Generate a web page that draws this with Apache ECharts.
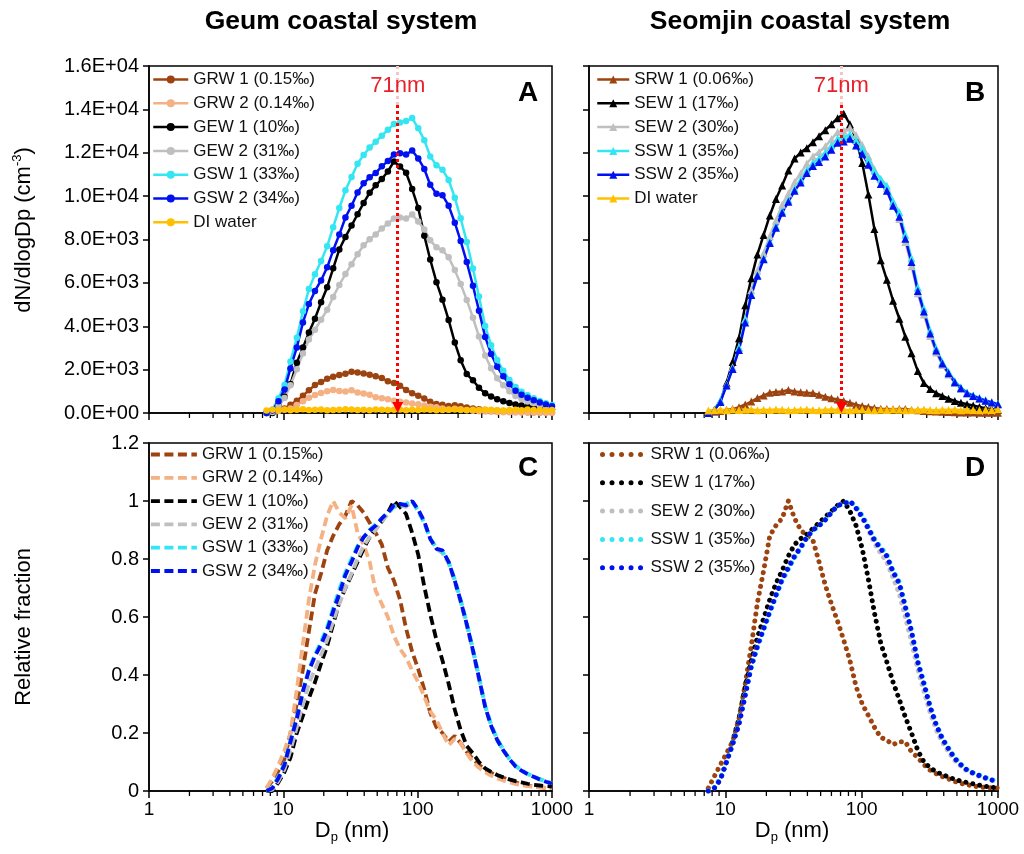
<!DOCTYPE html>
<html>
<head>
<meta charset="utf-8">
<title>Geum / Seomjin coastal system size distributions</title>
<script src="https://cdn.jsdelivr.net/npm/echarts@6/dist/echarts.min.js"></script>
<style>
  html, body { margin: 0; padding: 0; background: #fff; }
  #chart { width: 1024px; height: 854px; }
</style>
</head>
<body>
<div id="chart"></div>
<script>
// mobility diameter bins (nm)
const diameters = [7.5, 8.3, 9.2, 10.2, 11.3, 12.6, 14.0, 15.5, 17.2, 19.1,
  21.2, 23.5, 26.1, 29.0, 32.2, 35.7, 39.6, 43.9, 48.7, 54.1,
  60.0, 66.6, 73.9, 82.0, 91.0, 101, 112, 124, 138, 153,
  170, 189, 209, 232, 258, 286, 318, 352, 391, 434,
  482, 535, 593, 658, 731, 811, 900, 999]

// relative fraction (panel C)
const fracGRW1 = [0.01, 0.035, 0.07, 0.11, 0.2, 0.3, 0.42, 0.55, 0.68, 0.75,
  0.83, 0.88, 0.92, 0.95, 1.0, 0.985, 0.96, 0.925, 0.89, 0.85,
  0.77, 0.725, 0.66, 0.56, 0.48, 0.42, 0.35, 0.27, 0.22, 0.2,
  0.17, 0.19, 0.165, 0.135, 0.11, 0.09, 0.075, 0.063, 0.053, 0.046,
  0.038, 0.03, 0.024, 0.019, 0.015, 0.013, 0.011, 0.01]
const fracGRW2 = [0.01, 0.045, 0.09, 0.14, 0.2, 0.35, 0.51, 0.66, 0.78, 0.87,
  0.95, 1.0, 0.96, 0.94, 0.985, 0.89, 0.85, 0.79, 0.69, 0.645,
  0.6, 0.535, 0.49, 0.46, 0.415, 0.375, 0.325, 0.275, 0.245, 0.2,
  0.158, 0.18, 0.165, 0.13, 0.1, 0.08, 0.065, 0.053, 0.043, 0.036,
  0.03, 0.024, 0.02, 0.017, 0.015, 0.012, 0.011, 0.01]
const fracGEW1 = [0, 0, 0.03, 0.065, 0.115, 0.2, 0.26, 0.32, 0.375, 0.44,
  0.5, 0.575, 0.65, 0.7, 0.745, 0.79, 0.835, 0.875, 0.905, 0.93,
  0.96, 1.0, 0.98, 0.955, 0.89, 0.815, 0.705, 0.61, 0.52, 0.45,
  0.37, 0.28, 0.21, 0.155, 0.13, 0.1, 0.078, 0.066, 0.055, 0.047,
  0.04, 0.034, 0.03, 0.025, 0.021, 0.019, 0.017, 0.015]
const fracGEW2 = [0, 0.005, 0.035, 0.075, 0.14, 0.22, 0.3, 0.37, 0.42, 0.47,
  0.52, 0.585, 0.645, 0.7, 0.75, 0.8, 0.845, 0.875, 0.9, 0.93,
  0.955, 0.98, 0.985, 0.98, 1.0, 0.965, 0.925, 0.87, 0.835, 0.82,
  0.785, 0.72, 0.65, 0.57, 0.48, 0.385, 0.29, 0.225, 0.175, 0.14,
  0.11, 0.086, 0.07, 0.058, 0.049, 0.04, 0.033, 0.027]
const fracGSW1 = [0, 0.012, 0.05, 0.095, 0.175, 0.255, 0.345, 0.42, 0.47, 0.515,
  0.565, 0.63, 0.695, 0.755, 0.8, 0.845, 0.875, 0.9, 0.92, 0.94,
  0.96, 0.98, 0.985, 0.99, 1.0, 0.965, 0.925, 0.87, 0.84, 0.825,
  0.79, 0.73, 0.66, 0.58, 0.49, 0.395, 0.295, 0.23, 0.18, 0.143,
  0.112, 0.088, 0.072, 0.06, 0.05, 0.041, 0.033, 0.027]
const fracGSW2 = [0, 0.01, 0.045, 0.09, 0.17, 0.25, 0.345, 0.415, 0.465, 0.505,
  0.555, 0.62, 0.68, 0.745, 0.79, 0.84, 0.875, 0.898, 0.915, 0.94,
  0.96, 0.985, 0.99, 0.985, 1.0, 0.97, 0.93, 0.87, 0.835, 0.83,
  0.79, 0.725, 0.655, 0.575, 0.485, 0.39, 0.29, 0.225, 0.176, 0.14,
  0.11, 0.085, 0.07, 0.058, 0.049, 0.04, 0.032, 0.026]

// relative fraction (panel D)
const fracSRW1 = [0.01, 0.05, 0.09, 0.13, 0.17, 0.25, 0.37, 0.5, 0.65, 0.76,
  0.88, 0.915, 0.94, 1.0, 0.94, 0.9, 0.88, 0.865, 0.79, 0.71,
  0.645, 0.585, 0.52, 0.45, 0.36, 0.3, 0.26, 0.22, 0.185, 0.175,
  0.16, 0.17, 0.17, 0.135, 0.115, 0.09, 0.072, 0.06, 0.05, 0.042,
  0.033, 0.026, 0.022, 0.017, 0.014, 0.012, 0.011, 0.01]
const fracSEW1 = [0, 0.01, 0.04, 0.1, 0.17, 0.25, 0.36, 0.45, 0.53, 0.595,
  0.66, 0.715, 0.76, 0.81, 0.85, 0.87, 0.885, 0.905, 0.925, 0.945,
  0.965, 0.985, 1.0, 0.965, 0.915, 0.835, 0.73, 0.615, 0.51, 0.445,
  0.375, 0.315, 0.255, 0.2, 0.14, 0.1, 0.08, 0.066, 0.057, 0.048,
  0.04, 0.034, 0.029, 0.025, 0.02, 0.016, 0.013, 0.01]
const fracSEW2 = [0, 0.01, 0.04, 0.1, 0.16, 0.23, 0.33, 0.43, 0.5, 0.56,
  0.62, 0.675, 0.73, 0.77, 0.81, 0.84, 0.875, 0.9, 0.915, 0.935,
  0.96, 0.985, 0.99, 1.0, 0.975, 0.94, 0.9, 0.855, 0.82, 0.79,
  0.735, 0.68, 0.6, 0.515, 0.42, 0.345, 0.27, 0.212, 0.168, 0.135,
  0.105, 0.085, 0.069, 0.059, 0.05, 0.043, 0.037, 0.031]
const fracSSW1 = [0, 0.012, 0.045, 0.1, 0.16, 0.235, 0.335, 0.425, 0.495, 0.555,
  0.615, 0.67, 0.725, 0.765, 0.805, 0.838, 0.872, 0.898, 0.915, 0.935,
  0.96, 0.985, 0.99, 1.0, 0.98, 0.95, 0.91, 0.87, 0.84, 0.815,
  0.76, 0.72, 0.64, 0.555, 0.45, 0.375, 0.295, 0.232, 0.183, 0.148,
  0.115, 0.092, 0.074, 0.063, 0.054, 0.046, 0.039, 0.033]
const fracSSW2 = [0, 0.01, 0.04, 0.1, 0.16, 0.23, 0.33, 0.43, 0.5, 0.56,
  0.62, 0.675, 0.73, 0.77, 0.81, 0.84, 0.875, 0.9, 0.915, 0.935,
  0.96, 0.985, 0.99, 1.0, 0.975, 0.945, 0.905, 0.865, 0.835, 0.81,
  0.755, 0.715, 0.635, 0.55, 0.445, 0.37, 0.29, 0.228, 0.18, 0.145,
  0.112, 0.09, 0.072, 0.062, 0.053, 0.045, 0.038, 0.032]

// peak number concentration dN/dlogDp (cm-3), panels A and B
const peakGeum = [1900, 1060, 11600, 9150, 13600, 12100]
const peakSeomjin = [1060, 13800, 13150, 12850, 12650]

// DI water blank dN/dlogDp (cm-3)
const diWaterGeum = [120, 150, 140, 160, 130, 150, 170, 140, 150, 160,
  130, 140, 150, 170, 160, 140, 150, 130, 160, 150,
  140, 150, 160, 130, 150, 140, 160, 150, 130, 140,
  150, 160, 140, 130, 150, 140, 160, 150, 130, 120,
  140, 150, 130, 160, 140, 150, 130, 140]
const diWaterSeomjin = [110, 140, 150, 130, 160, 140, 150, 160, 130, 150,
  140, 160, 150, 130, 140, 150, 160, 140, 130, 150,
  160, 140, 150, 130, 150, 160, 140, 130, 150, 140,
  160, 150, 130, 140, 150, 160, 140, 130, 150, 140,
  160, 130, 150, 140, 130, 150, 140, 160]

const geumNames = ['GRW 1 (0.15‰)', 'GRW 2 (0.14‰)', 'GEW 1 (10‰)', 'GEW 2 (31‰)', 'GSW 1 (33‰)', 'GSW 2 (34‰)']
const seomjinNames = ['SRW 1 (0.06‰)', 'SEW 1 (17‰)', 'SEW 2 (30‰)', 'SSW 1 (35‰)', 'SSW 2 (35‰)']
const geumColors = ['#9c430f', '#f4b183', '#000000', '#bfbfbf', '#33e6f2', '#0010f0']
const seomjinColors = ['#9c430f', '#000000', '#bfbfbf', '#33e6f2', '#0010f0']
const diName = 'DI water'
const diColor = '#ffc000'

const xTicks = ['1', '10', '100', '1000']
const yTicksConc = ['0.0E+00', '2.0E+03', '4.0E+03', '6.0E+03', '8.0E+03', '1.0E+04', '1.2E+04', '1.4E+04', '1.6E+04']
const yTicksFrac = ['0', '0.2', '0.4', '0.6', '0.8', '1', '1.2']
const minorTicks = [2, 3, 4, 5, 6, 7, 8, 9, 20, 30, 40, 50, 60, 70, 80, 90, 200, 300, 400, 500, 600, 700, 800, 900]
const modeDiameter = 71

const fontFamily = '"Liberation Sans", Arial, sans-serif'
const chart = echarts.init(document.getElementById('chart'))

// line looks per panel
const styleA = { grid: 0, symbol: 'circle', symbolSize: 6.5, width: 2.5 }
const styleB = { grid: 1, symbol: 'triangle', symbolSize: 8, width: 2.5 }
const styleC = { grid: 2, width: 3.8, type: [9, 4.5], keyType: [9, 4.5] }
const styleD = { grid: 3, width: 5, type: [0.01, 7], keyType: [0.01, 9.5], cap: 'round' }

/* one curve of a panel, panel id goes in front of the name so legends stay apart */
function curve(panel, name, color, values, style) {
  return {
    type: 'line',
    name: panel + '|' + name,
    xAxisIndex: style.grid,
    yAxisIndex: style.grid,
    data: diameters.map((d, i) => [d, values[i]]),
    color: color,
    animation: false,
    showAllSymbol: true,
    symbol: style.symbol || 'none',
    symbolSize: style.symbolSize || 0,
    itemStyle: { color: color },
    lineStyle: { color: color, width: style.width, type: style.type || 'solid', cap: style.cap || 'butt' },
    emphasis: { disabled: true }
  }
}

function scaled(frac, peak) {
  return frac.map(v => Math.round(v * peak))
}

function minorTickSeries(grid) {
  return {
    type: 'custom',
    xAxisIndex: grid,
    yAxisIndex: grid,
    silent: true,
    animation: false,
    clip: false,
    data: minorTicks.map(v => [v, 0]),
    renderItem(params, api) {
      const p = api.coord([api.value(0), api.value(1)])
      return {
        type: 'line',
        shape: { x1: p[0], y1: p[1], x2: p[0], y2: p[1] + 5 },
        style: { stroke: '#000', lineWidth: 1.3 }
      }
    }
  }
}

function xAxisFor(grid, showLabels) {
  return {
    type: 'log', logBase: 10, min: 1, max: 1000, gridIndex: grid,
    axisLine: { lineStyle: { color: '#000', width: 1.5 } },
    axisTick: { show: true, length: 7, lineStyle: { color: '#000', width: 1.5 } },
    axisLabel: {
      show: showLabels, fontSize: 19, color: '#000', margin: 9, fontFamily,
      formatter: v => xTicks[Math.round(Math.log10(v))]
    },
    splitLine: { show: false }
  }
}

function yAxisFor(grid, max, interval, labels, showLabels) {
  return {
    type: 'value', min: 0, max: max, interval: interval, gridIndex: grid,
    axisLine: { show: true, lineStyle: { color: '#000', width: 1.5 } },
    axisTick: { show: true, length: 6, lineStyle: { color: '#000', width: 1.5 } },
    axisLabel: {
      show: showLabels, fontSize: 20, color: '#000', margin: 10, fontFamily,
      formatter: v => labels[Math.round(v / interval)]
    },
    splitLine: { show: false }
  }
}

function legendFor(panel, names, left, top, itemWidth, itemGap, style) {
  const lg = {
    data: names.map(n => panel + '|' + n),
    formatter: n => n.split('|')[1],
    orient: 'vertical',
    left: left, top: top,
    itemWidth: itemWidth, itemHeight: 10, itemGap: itemGap,
    padding: 0, selectedMode: false,
    lineStyle: { width: style.width },
    textStyle: { fontSize: 17, color: '#111', lineHeight: 17, fontFamily }
  }
  if (style.keyType) lg.lineStyle.type = style.keyType
  if (style.cap) lg.lineStyle.cap = style.cap
  // dashed / dotted panels show only the line in the key
  if (!style.symbol) lg.itemStyle = { opacity: 0 }
  return lg
}

// 71 nm marker used in A and B
function modeMarker() {
  const dotted = { color: '#ff0000', width: 3, type: [3, 3] }
  const faint = { color: '#f7c4c4', width: 3, type: [3, 3] }
  return {
    markLine: {
      silent: true, animation: false,
      label: { show: false },
      data: [
        [{ coord: [modeDiameter, 16000], symbol: 'none', lineStyle: faint }, { coord: [modeDiameter, 14200], symbol: 'none', lineStyle: faint }],
        [{ coord: [modeDiameter, 14200], symbol: 'none', lineStyle: dotted }, { coord: [modeDiameter, 250], symbol: 'triangle', symbolSize: 11, lineStyle: dotted }]
      ]
    },
    markPoint: {
      silent: true, animation: false,
      symbol: 'circle', symbolSize: 0,
      label: { show: true, position: 'inside', formatter: modeDiameter + 'nm', color: '#e8202a', fontSize: 22, fontFamily },
      data: [{ coord: [modeDiameter, 15100] }]
    }
  }
}

const series = []
// A: dN/dlogDp, circles
geumNames.forEach((n, i) => {
  series.push(curve('A', n, geumColors[i], scaled([fracGRW1, fracGRW2, fracGEW1, fracGEW2, fracGSW1, fracGSW2][i], peakGeum[i]), styleA))
})
series.push(Object.assign(curve('A', diName, diColor, diWaterGeum, styleA), modeMarker()))
// B: dN/dlogDp, triangles
seomjinNames.forEach((n, i) => {
  series.push(curve('B', n, seomjinColors[i], scaled([fracSRW1, fracSEW1, fracSEW2, fracSSW1, fracSSW2][i], peakSeomjin[i]), styleB))
})
series.push(Object.assign(curve('B', diName, diColor, diWaterSeomjin, styleB), modeMarker()))
// C: relative fraction, dashed
geumNames.forEach((n, i) => {
  series.push(curve('C', n, geumColors[i], [fracGRW1, fracGRW2, fracGEW1, fracGEW2, fracGSW1, fracGSW2][i], styleC))
})
// D: relative fraction, round dots
seomjinNames.forEach((n, i) => {
  series.push(curve('D', n, seomjinColors[i], [fracSRW1, fracSEW1, fracSEW2, fracSSW1, fracSSW2][i], styleD))
})
for (let g = 0; g < 4; g++) series.push(minorTickSeries(g))

const gridBox = { show: true, borderColor: '#000', borderWidth: 1.5, backgroundColor: 'transparent' }

const textRich = {
  a: { fontSize: 22, fontFamily, fill: '#000', lineHeight: 26 },
  sup: { fontSize: 13, fontFamily, fill: '#000', lineHeight: 26, verticalAlign: 'top' },
  sub: { fontSize: 13, fontFamily, fill: '#000', lineHeight: 26, verticalAlign: 'bottom' }
}

function label(x, y, text, size, bold, rotation) {
  return {
    type: 'text', x: x, y: y, rotation: rotation || 0, silent: true,
    style: {
      text: text, fontSize: size, fontWeight: bold ? 'bold' : 'normal', fontFamily,
      fill: '#000', align: 'center', verticalAlign: 'middle', rich: textRich
    }
  }
}

const option = {
  backgroundColor: '#fff',
  animation: false,
  textStyle: { fontFamily },
  grid: [
    Object.assign({ left: 149, top: 66, width: 403, height: 347 }, gridBox),
    Object.assign({ left: 589, top: 66, width: 409, height: 347 }, gridBox),
    Object.assign({ left: 149, top: 443, width: 403, height: 348 }, gridBox),
    Object.assign({ left: 589, top: 443, width: 409, height: 348 }, gridBox)
  ],
  xAxis: [xAxisFor(0, false), xAxisFor(1, false), xAxisFor(2, true), xAxisFor(3, true)],
  yAxis: [
    yAxisFor(0, 16000, 2000, yTicksConc, true),
    yAxisFor(1, 16000, 2000, yTicksConc, false),
    yAxisFor(2, 1.2, 0.2, yTicksFrac, true),
    yAxisFor(3, 1.2, 0.2, yTicksFrac, false)
  ],
  legend: [
    legendFor('A', geumNames.concat([diName]), 152, 71, 35, 6.8, styleA),
    legendFor('B', seomjinNames.concat([diName]), 596, 71, 32, 6.8, styleB),
    legendFor('C', geumNames, 149, 446, 46, 6.3, styleC),
    legendFor('D', seomjinNames, 600, 446, 43, 11.3, styleD)
  ],
  graphic: [
    label(341, 22, 'Geum coastal system', 26.5, true),
    label(800, 22, 'Seomjin coastal system', 26.5, true),
    label(24, 230, '{a|dN/dlogDp (cm}{sup|-3}{a|)}', 22, false, Math.PI / 2),
    label(24, 627, '{a|Relative fraction}', 22, false, Math.PI / 2),
    label(352, 831, '{a|D}{sub|p}{a| (nm)}', 22, false),
    label(792, 831, '{a|D}{sub|p}{a| (nm)}', 22, false),
    label(528, 93, 'A', 28, true),
    label(975, 93, 'B', 28, true),
    label(528, 468, 'C', 28, true),
    label(975, 468, 'D', 28, true)
  ],
  series: series
}

chart.setOption(option)
</script>
</body>
</html>
